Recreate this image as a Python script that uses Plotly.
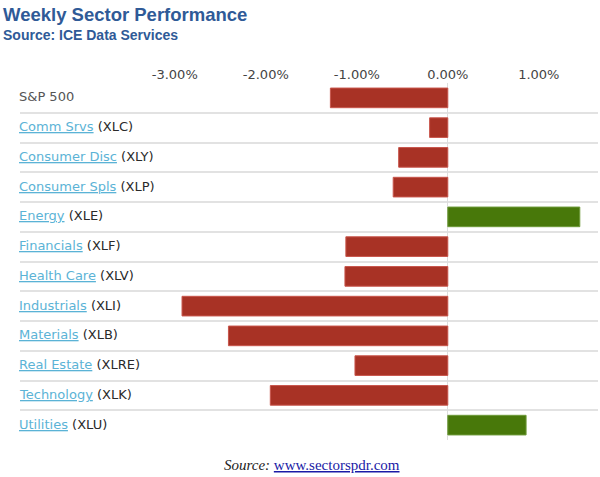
import plotly.graph_objects as go

sectors = ["S&P 500", "Comm Srvs", "Consumer Disc", "Consumer Spls", "Energy", "Financials",
           "Health Care", "Industrials", "Materials", "Real Estate", "Technology", "Utilities"]
tickers = ["", "(XLC)", "(XLY)", "(XLP)", "(XLE)", "(XLF)", "(XLV)", "(XLI)", "(XLB)", "(XLRE)", "(XLK)", "(XLU)"]
values = [-1.29, -0.20, -0.54, -0.60, 1.45, -1.12, -1.13, -2.92, -2.41, -1.02, -1.95, 0.86]
tick_vals = [-3, -2, -1, 0, 1]
tick_text = ["-3.00%", "-2.00%", "-1.00%", "0.00%", "1.00%"]

RED = "#a83225"
GREEN = "#48780a"
colors = [GREEN if v >= 0 else RED for v in values]
line_colors = ["#6e9a3a" if v >= 0 else "#c8564c" for v in values]
ypos = list(range(len(sectors)))

fig = go.Figure()
fig.add_trace(go.Bar(
    x=values, y=ypos, orientation="h",
    marker=dict(color=colors, line=dict(color=line_colors, width=1)),
    width=0.66, hoverinfo="x+text", text=sectors, textposition="none",
))

annotations = []
for i, (s, t) in enumerate(zip(sectors, tickers)):
    if t == "":
        txt = f"<span style='color:#555555'>{s}</span>"
    else:
        txt = f"<span style='color:#5bb3d6'><u>{s}</u></span> <span style='color:#2a2a2a'>{t}</span>"
    annotations.append(dict(
        x=-3 / 578, xref="paper", y=i, yref="y", text=txt, showarrow=False,
        xanchor="left", yanchor="middle", yshift=1,
        font=dict(family="DejaVu Sans", size=13, color="#444444"),
    ))

annotations.append(dict(
    x=-19 / 578, xref="paper", y=1 + (83 - 35) / 357, yref="paper",
    text="<b>Source: ICE Data Services</b>", showarrow=False,
    xanchor="left", yanchor="middle",
    font=dict(family="Liberation Sans, Arial", size=14, color="#2f5a97"),
))
annotations.append(dict(
    x=(312 - 20) / 578, xref="paper", y=-(465 - 440) / 357, yref="paper",
    text="<i>Source:</i> <span style='color:#1a1aa6'><u>www.sectorspdr.com</u></span>",
    showarrow=False, xanchor="center", yanchor="middle",
    font=dict(family="Liberation Serif, Times New Roman", size=15, color="#222222"),
))

fig.update_layout(
    width=600, height=477,
    margin=dict(l=20, r=2, t=83, b=37),
    paper_bgcolor="white", plot_bgcolor="white",
    showlegend=False,
    title=dict(
        text="<b>Weekly Sector Performance</b>",
        x=3 / 600, xanchor="left", xref="container",
        y=1 - 15 / 477, yanchor="middle", yref="container",
        font=dict(family="Liberation Sans, Arial", size=18.5, color="#2f5a97"),
    ),
    xaxis=dict(
        range=[-4.70, 1.65], side="top",
        tickvals=tick_vals, ticktext=tick_text,
        showgrid=False, zeroline=True, zerolinecolor="#dddddd", zerolinewidth=1,
        ticks="", tickfont=dict(family="DejaVu Sans", size=13, color="#444444"),
        fixedrange=True,
    ),
    yaxis=dict(
        range=[len(sectors) - 0.5, -0.5],
        tickvals=[i - 0.5 for i in range(len(sectors) + 1)],
        showticklabels=False, showgrid=True, gridcolor="#e2e2e2", gridwidth=2,
        zeroline=False, ticks="", fixedrange=True,
    ),
    annotations=annotations,
)

fig.write_html("out.html")
